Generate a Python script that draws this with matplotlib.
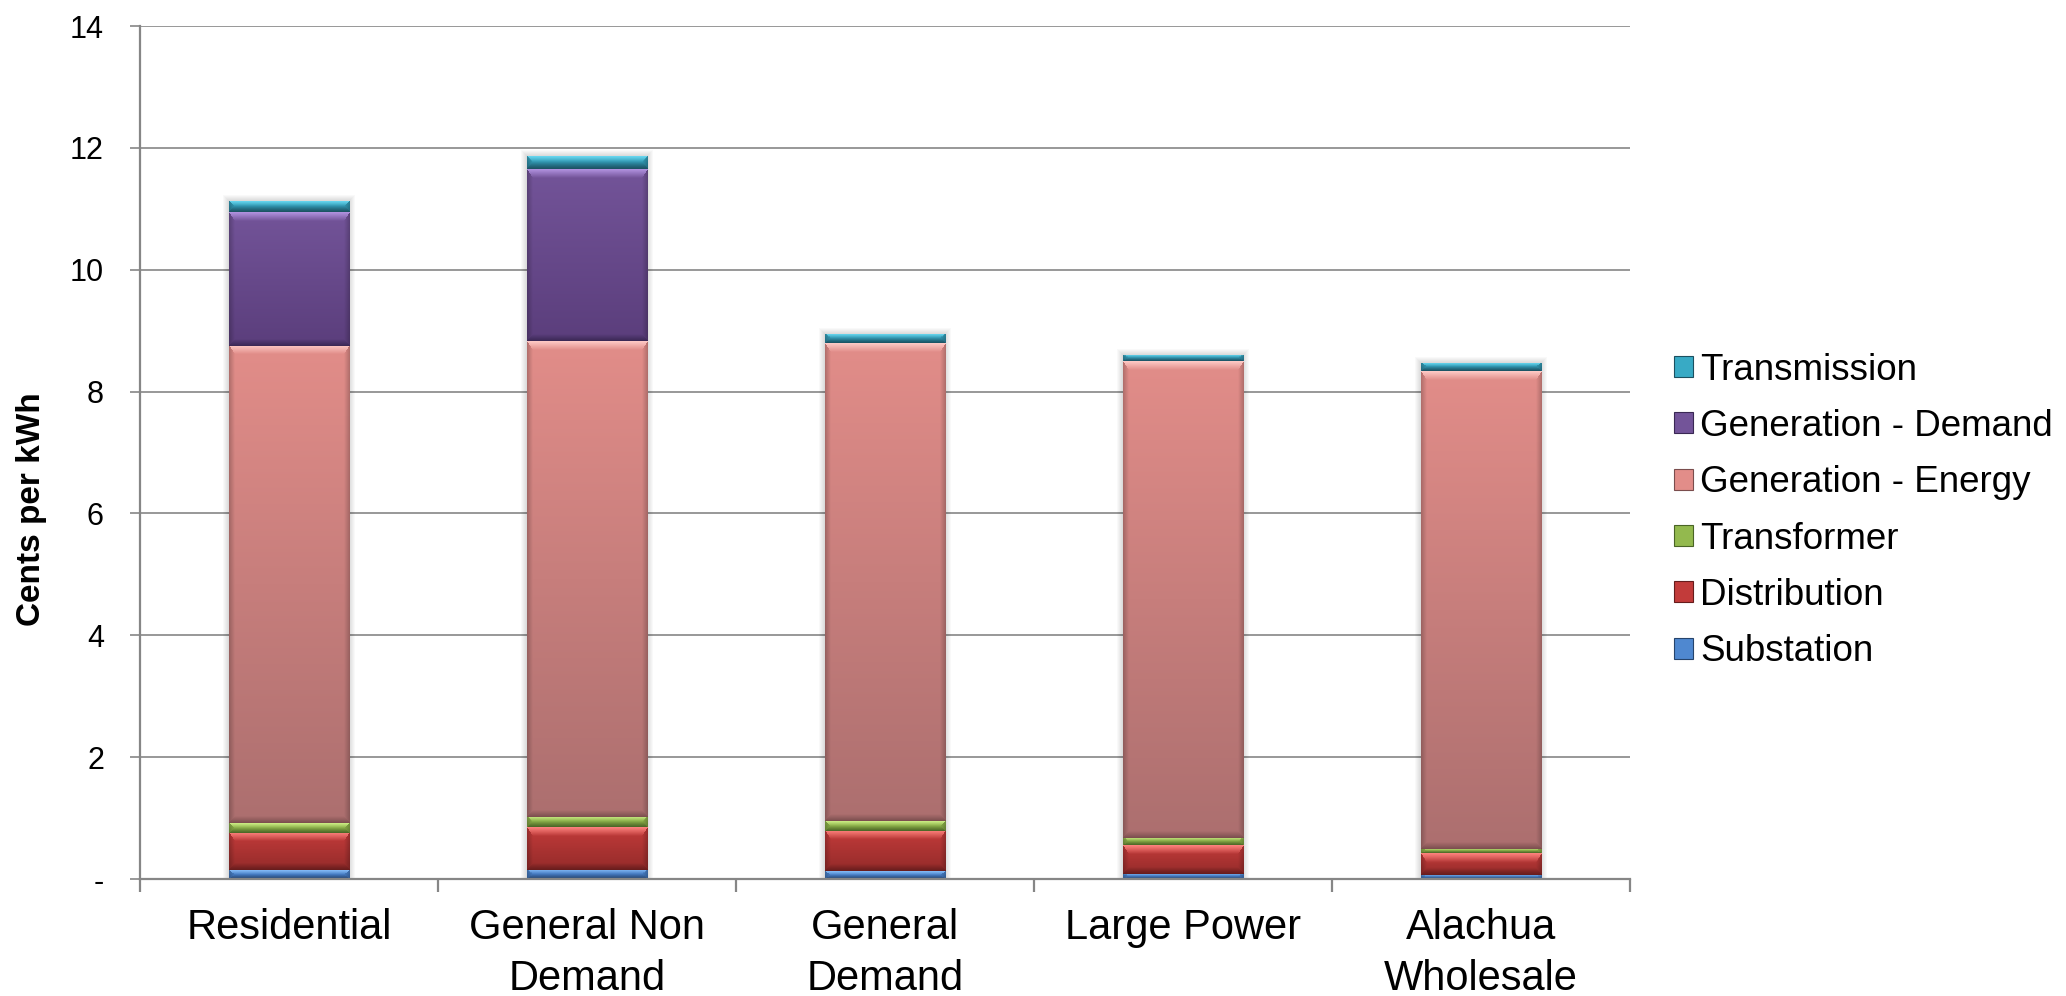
import numpy as np
import matplotlib
matplotlib.use('Agg')
import matplotlib.pyplot as plt
import matplotlib.colors as mcolors
from matplotlib.patches import Patch, Rectangle
from matplotlib.ticker import FuncFormatter, FixedLocator

plt.rcParams['font.family'] = ['Liberation Sans', 'DejaVu Sans']

categories = ['Residential', 'General Non\nDemand', 'General\nDemand', 'Large Power', 'Alachua\nWholesale']
series = ['Substation', 'Distribution', 'Transformer', 'Generation - Energy',
          'Generation - Demand', 'Transmission']

substation = [0.14, 0.15, 0.13, 0.09, 0.07]
distribution = [0.62, 0.70, 0.66, 0.47, 0.35]
transformer = [0.16, 0.17, 0.16, 0.12, 0.08]
gen_energy = [7.83, 7.81, 7.84, 7.82, 7.83]
gen_demand = [2.19, 2.82, 0.00, 0.00, 0.00]
transmission = [0.19, 0.22, 0.15, 0.10, 0.14]

values = [substation, distribution, transformer, gen_energy, gen_demand, transmission]

# (body top, body bottom, highlight, shade) for each series
palette = [
    ('#4F88D0', '#3A6CB0', '#86BDF8', '#26446C'),
    ('#C23B3A', '#942B2A', '#FF8580', '#661C1C'),
    ('#93B94E', '#7A9A3E', '#CDEE86', '#4A6426'),
    ('#E28D89', '#AC6F6F', '#FFCCC8', '#7A4D4D'),
    ('#735499', '#5B3E7C', '#B394E2', '#3A2854'),
    ('#38AAC5', '#2A8099', '#74E2FA', '#1C5060'),
]

BAR_WIDTH = 0.405
GRID = '#868686'


def bevel_image(w, h, top, bottom, light, dark):
    top, bottom, light, dark = (np.array(mcolors.to_rgb(c)) for c in (top, bottom, light, dark))
    bt = max(min(9.0, h / 2), 0.5)
    bb = max(min(7.0, h / 2), 0.5)
    bs = max(min(6.0, w / 2), 0.5)
    v = (np.arange(h) + 0.5)[:, None] * np.ones((1, w))
    u = (np.arange(w) + 0.5)[None, :] * np.ones((h, 1))
    t = (v / h)[..., None]
    body = top * (1 - t) + bottom * t
    dist = np.stack([v / bt, (h - v) / bb, u / bs, (w - u) / bs])
    idx = dist.argmin(axis=0)
    f = dist.min(axis=0)[..., None]
    img = body.copy()
    edge = f[..., 0] < 1
    side = body * 0.78
    for k, tgt in enumerate([light, dark, side, side]):
        m = edge & (idx == k)
        mix = tgt * (1 - f) + body * f
        img[m] = mix[m]
    return np.clip(img, 0, 1)


fig = plt.figure(figsize=(20.66, 9.96), dpi=100)
ax = fig.add_axes([140 / 2066, 117 / 996, 1490 / 2066, 853 / 996])
ax.set_xlim(-0.5, 4.5)
ax.set_ylim(0, 14)

sx = ax.bbox.width / 5.0
sy = ax.bbox.height / 14.0

x = np.arange(len(categories))
totals = np.sum(values, axis=0)

# soft shadow around each stack
for xi, tot in zip(x, totals):
    for k in range(1, 7):
        dx = k / sx
        dy = k / sy
        ax.add_patch(Rectangle((xi - BAR_WIDTH / 2 - dx, 0), BAR_WIDTH + 2 * dx, tot + dy,
                               facecolor='#000000', edgecolor='none', alpha=0.025, zorder=1.5))

bottoms = np.zeros(len(categories))
for vals, (ctop, cbot, clight, cdark) in zip(values, palette):
    bars = ax.bar(x, vals, BAR_WIDTH, bottom=bottoms, color=ctop, edgecolor='none', zorder=2)
    for rect in bars:
        hgt = rect.get_height()
        if hgt <= 0:
            continue
        x0 = rect.get_x()
        y0 = rect.get_y()
        wpx = max(int(round(rect.get_width() * sx)), 2)
        hpx = max(int(round(hgt * sy)), 2)
        img = bevel_image(wpx, hpx, ctop, cbot, clight, cdark)
        im = ax.imshow(img, extent=(x0, x0 + rect.get_width(), y0, y0 + hgt),
                       origin='upper', aspect='auto', interpolation='bilinear', zorder=3)
        im.set_clip_path(rect)
    bottoms += np.array(vals)

ax.set_xlim(-0.5, 4.5)
ax.set_ylim(0, 14)

# axes styling
for s in ['top', 'right']:
    ax.spines[s].set_visible(False)
for s in ['left', 'bottom']:
    ax.spines[s].set_color(GRID)
    ax.spines[s].set_linewidth(1.6)
    ax.spines[s].set_zorder(4)

ax.set_yticks(np.arange(0, 15, 2))
ax.yaxis.set_major_formatter(FuncFormatter(lambda v, p: '-' if v == 0 else f'{v:.0f}'))
ax.yaxis.grid(True, color=GRID, linewidth=1.2, zorder=0)
ax.set_axisbelow(True)
ax.tick_params(axis='y', labelsize=22, length=7, width=1.2, color=GRID, pad=19)

ax.set_xticks(x)
ax.set_xticklabels(categories, fontsize=30, linespacing=1.34)
ax.tick_params(axis='x', which='major', length=0, pad=21)
ax.xaxis.set_minor_locator(FixedLocator(np.arange(-0.5, 5, 1.0)))
ax.tick_params(axis='x', which='minor', length=9, width=1.6, color=GRID)

fig.text(32 / 2066, 0.4887, 'Cents per kWh', rotation=90, ha='center', va='center',
         fontsize=24, fontweight='bold')

handles = [Patch(facecolor=p[0], edgecolor=p[3], linewidth=0.8) for p in palette]
leg = fig.legend(handles[::-1], series[::-1], loc='center left',
                 bbox_to_anchor=(1674 / 2066, 0.487), frameon=False, fontsize=26.5,
                 handlelength=0.52, handleheight=0.5, handletextpad=0.19,
                 labelspacing=0.58, borderaxespad=0, borderpad=0)

fig.savefig('out.png', dpi=100)
